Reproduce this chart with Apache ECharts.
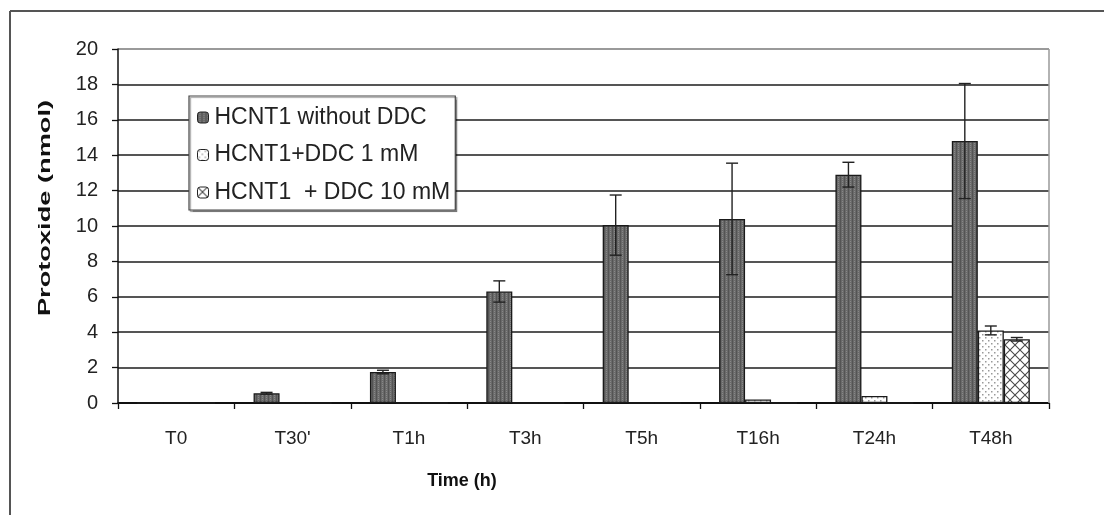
<!DOCTYPE html>
<html>
<head>
<meta charset="utf-8">
<script src="https://cdn.jsdelivr.net/npm/echarts@6/dist/echarts.min.js"></script>
<style>
html,body{margin:0;padding:0;background:#fff;}
#chart{width:1104px;height:515px;}
</style>
</head>
<body>
<div id="chart"></div>
<script>
// ---- data ----
const categories = ["T0", "T30'", "T1h", "T3h", "T5h", "T16h", "T24h", "T48h"];
const seriesNames = ["HCNT1 without DDC", "HCNT1+DDC 1 mM", "HCNT1  + DDC 10 mM"];
const withoutDDC = [0, 0.55, 1.75, 6.3, 10.05, 10.4, 12.9, 14.8];
const withoutDDCErr = [0, 0.05, 0.1, 0.6, 1.7, 3.15, 0.7, 3.25];
const ddc1 = [0, 0, 0, 0, 0, 0.2, 0.4, 4.1];
const ddc1Err = [0, 0, 0, 0, 0, 0, 0, 0.25];
const ddc10 = [0, 0, 0, 0, 0, 0, 0, 3.6];
const ddc10Err = [0, 0, 0, 0, 0, 0, 0, 0.1];
const yTicks = [0, 2, 4, 6, 8, 10, 12, 14, 16, 18, 20];

// ---- patterns ----
function makePattern(w, h, draw) {
  const c = document.createElement('canvas');
  c.width = w; c.height = h;
  draw(c.getContext('2d'));
  return c;
}
const patDark = makePattern(4, 4, ctx => {
  ctx.fillStyle = '#6a6a6a'; ctx.fillRect(0, 0, 4, 4);
  ctx.fillStyle = '#545454'; ctx.fillRect(0, 0, 1, 4);
  ctx.fillStyle = '#888'; ctx.fillRect(2, 1, 1, 1); ctx.fillRect(2, 3, 1, 1);
});
const patDots = makePattern(6, 6, ctx => {
  ctx.fillStyle = '#ffffff'; ctx.fillRect(0, 0, 6, 6);
  ctx.fillStyle = '#9a9a9a'; ctx.fillRect(1, 1, 1.5, 1.5); ctx.fillRect(4, 4, 1.5, 1.5);
});
const patCross = makePattern(10, 10, ctx => {
  ctx.fillStyle = '#ffffff'; ctx.fillRect(0, 0, 10, 10);
  ctx.strokeStyle = '#4a4a4a'; ctx.lineWidth = 1.1;
  ctx.beginPath();
  ctx.moveTo(0, 0); ctx.lineTo(10, 10);
  ctx.moveTo(10, 0); ctx.lineTo(0, 10);
  ctx.stroke();
});

const values = [withoutDDC, ddc1, ddc10];
const errors = [withoutDDCErr, ddc1Err, ddc10Err];
const patterns = [patDark, patDots, patCross];
const BAR_W = 26;
const FONT = '"Liberation Sans", Arial, sans-serif';

const chart = echarts.init(document.getElementById('chart'), null, {renderer: 'canvas'});

const barSeries = values.map((vals, si) => ({
  name: seriesNames[si],
  type: 'bar',
  data: vals,
  barWidth: BAR_W,
  barGap: '0%',
  itemStyle: {
    color: {image: patterns[si], repeat: 'repeat'},
    borderColor: '#1a1a1a',
    borderWidth: 1.3
  },
  emphasis: {disabled: true},
  z: 2
}));

const errSeries = values.map((vals, si) => ({
  type: 'custom',
  silent: true,
  z: 5,
  data: vals.map((v, i) => [i, v, errors[si][i]]),
  renderItem: function (params, api) {
    const i = api.value(0), v = api.value(1), e = api.value(2);
    if (!e) return null;
    const off = (params.seriesIndex - 3 - 1) * BAR_W;
    const top = api.coord([i, v + e]);
    const bot = api.coord([i, v - e]);
    const x = top[0] + off;
    const cap = 6;
    const st = {stroke: '#222', lineWidth: 1.4, fill: null};
    return {
      type: 'group',
      children: [
        {type: 'line', shape: {x1: x, y1: top[1], x2: x, y2: bot[1]}, style: st},
        {type: 'line', shape: {x1: x - cap, y1: top[1], x2: x + cap, y2: top[1]}, style: st},
        {type: 'line', shape: {x1: x - cap, y1: bot[1], x2: x + cap, y2: bot[1]}, style: st}
      ]
    };
  }
}));

const option = {
  backgroundColor: '#ffffff',
  animation: false,
  textStyle: {fontFamily: FONT},
  grid: {left: 118, top: 49, right: 55, bottom: 112, containLabel: false},
  legend: {
    orient: 'vertical',
    left: 189,
    top: 96,
    data: seriesNames,
    itemWidth: 11,
    itemHeight: 11,
    itemGap: 14.5,
    padding: [10, 5, 6, 8],
    backgroundColor: '#ffffff',
    borderColor: '#444',
    borderWidth: 1.2,
    shadowColor: 'rgba(0,0,0,0.35)',
    shadowOffsetX: 1.5,
    shadowOffsetY: 1.5,
    shadowBlur: 1,
    textStyle: {fontFamily: FONT, fontSize: 23, color: '#222', padding: [0, 0, 0, 1]},
    itemStyle: {borderColor: '#222', borderWidth: 1},
    selectedMode: false
  },
  xAxis: {
    type: 'category',
    data: categories,
    boundaryGap: true,
    axisLine: {lineStyle: {color: '#111', width: 1.5}},
    axisTick: {show: true, inside: false, length: 6, alignWithLabel: false, lineStyle: {color: '#111', width: 1.3}},
    axisLabel: {fontFamily: FONT, fontSize: 19, color: '#222', margin: 26},
    splitLine: {show: false}
  },
  yAxis: {
    type: 'value',
    min: yTicks[0],
    max: yTicks[yTicks.length - 1],
    interval: 2,
    axisLine: {show: true, lineStyle: {color: '#111', width: 1.5}},
    axisTick: {show: true, inside: false, length: 6, lineStyle: {color: '#111', width: 1.3}},
    axisLabel: {fontFamily: FONT, fontSize: 20, color: '#222', margin: 20},
    splitLine: {show: true, lineStyle: {color: ['#111', '#555', '#555', '#555', '#555', '#555', '#555', '#555', '#555', '#555', '#9a9a9a'], width: 2}}
  },
  graphic: [
    {type: 'line', shape: {x1: 10, y1: 11, x2: 1104, y2: 11}, style: {stroke: '#555', lineWidth: 2}},
    {type: 'line', shape: {x1: 10, y1: 11, x2: 10, y2: 515}, style: {stroke: '#555', lineWidth: 2}},
    {type: 'line', shape: {x1: 1049, y1: 49, x2: 1049, y2: 403}, style: {stroke: '#9a9a9a', lineWidth: 1.5}, z: 1},
    {type: 'text', x: 45, y: 208, rotation: Math.PI / 2, scaleX: 1.6, scaleY: 1,
      style: {text: 'Protoxide (nmol)', font: 'bold 17px ' + FONT, fill: '#111', align: 'center', verticalAlign: 'middle'}},
    {type: 'text', x: 462, y: 481,
      style: {text: 'Time (h)', font: 'bold 18px ' + FONT, fill: '#111', align: 'center', verticalAlign: 'middle'}}
  ],
  series: barSeries.concat(errSeries)
};
chart.setOption(option);
</script>
</body>
</html>
